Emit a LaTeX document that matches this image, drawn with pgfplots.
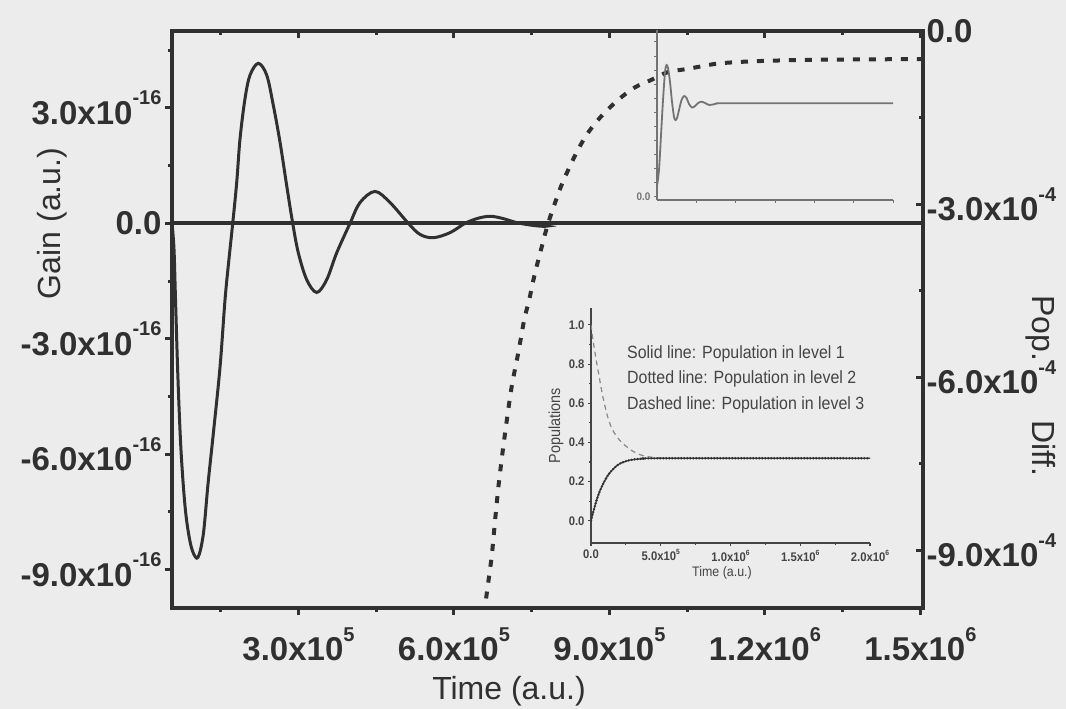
\documentclass[border=0pt]{standalone}
\usepackage{pgfplots}
\pgfplotsset{compat=1.18}
\usepackage{fontspec}
\setmainfont{Liberation Sans}
\newfontfamily\narrowfont{Liberation Sans}[FakeStretch=0.9]

\definecolor{paper}{RGB}{236,236,236}
\definecolor{ink}{RGB}{48,48,48}
\definecolor{inkb}{RGB}{68,68,68}
\definecolor{lightink}{RGB}{135,135,135}
\definecolor{grayink}{RGB}{115,115,115}

% raised exponents for the big and the small tick labels
\newcommand{\supx}[1]{\raisebox{19.5pt}{\fontsize{20}{20}\selectfont #1}}
\newcommand{\supi}[1]{\raisebox{6pt}{\fontsize{7.5}{8}\selectfont #1}}

\begin{document}
\begin{tikzpicture}[x=1pt,y=1pt]
\fill[paper] (0,0) rectangle (1066,709);

% ---------- main axis: gain (left scale) ----------
\begin{axis}[
  at={(172pt,101pt)}, anchor=south west,
  scale only axis, width=751pt, height=577pt,
  xmin=56000, xmax=1505000,
  ymin=-1e-15, ymax=5e-16,
  axis line style={ink, line width=4pt},
  tick style={ink, line width=3pt},
  tick align=outside,
  xtick pos=bottom, ytick pos=left,
  major tick length=7pt, minor tick length=4pt,
  xtick={3e5,6e5,9e5,1.2e6,1.5e6},
  minor xtick={1.5e5,4.5e5,7.5e5,1.05e6,1.35e6},
  xticklabels={3.0x10\supx{5},6.0x10\supx{5},9.0x10\supx{5},1.2x10\supx{6},1.5x10\supx{6}},
  ytick={-9e-16,-6e-16,-3e-16,0,3e-16},
  minor ytick={-7.5e-16,-4.5e-16,-1.5e-16,1.5e-16,4.5e-16},
  yticklabels={-9.0x10\supx{-16},-6.0x10\supx{-16},-3.0x10\supx{-16},0.0,3.0x10\supx{-16}},
  scaled x ticks=false, scaled y ticks=false,
  tick label style={font=\fontsize{33}{40}\selectfont\bfseries, text=ink},
  xticklabel style={yshift=-9pt},
]
\addplot[ink, line width=4pt] coordinates {(56000,0) (1505000,0)};
\addplot[ink, line width=3pt, smooth, tension=0.55] coordinates {
(56038,0) (59897,-6.80e-17) (62791,-1.988e-16) (67614,-4.080e-16)
(73402,-5.911e-16) (81120,-7.350e-16) (88838,-8.134e-16) (96555,-8.553e-16)
(106202,-8.683e-16) (116428,-8.082e-16) (125497,-6.774e-16) (135722,-5.466e-16)
(148649,-3.740e-16) (158296,-1.988e-16) (165435,-9.94e-17) (173153,0)
(180870,1.065e-16) (187237,2.197e-16) (196884,3.243e-16) (206531,3.853e-16)
(222545,4.159e-16) (238752,3.853e-16) (251486,3.068e-16) (264413,2.111e-16)
(277340,9.76e-17) (288917,0) (299721,-7.66e-17) (315928,-1.465e-16)
(335222,-1.797e-16) (354516,-1.465e-16) (373810,-7.66e-17) (399472,0)
(418766,5.41e-17) (447707,8.29e-17) (476648,5.41e-17) (511955,0)
(534529,-2.88e-17) (560190,-3.74e-17) (592414,-2.43e-17) (621355,0)
(646437,1.31e-17) (669589,1.83e-17) (692742,1.31e-17) (727471,0)
(775705,-7.8e-18) (823939,0) (1505000,0)
};
\end{axis}

% ---------- main axis: population difference (right scale) ----------
\begin{axis}[
  at={(172pt,101pt)}, anchor=south west,
  scale only axis, width=751pt, height=577pt,
  xmin=56000, xmax=1505000,
  ymin=-1e-3, ymax=0,
  axis x line*=top, axis y line*=right,
  axis line style={ink, line width=4pt},
  tick style={ink, line width=3pt},
  tick align=inside,
  major tick length=7pt, minor tick length=4pt,
  xtick={3e5,6e5,9e5,1.2e6,1.5e6},
  minor xtick={1.5e5,4.5e5,7.5e5,1.05e6,1.35e6},
  xticklabels={},
  ytick={-9e-4,-6e-4,-3e-4,0},
  minor ytick={-7.5e-4,-4.5e-4,-1.5e-4},
  yticklabels={-9.0x10\supx{-4},-6.0x10\supx{-4},-3.0x10\supx{-4},0.0},
  scaled x ticks=false, scaled y ticks=false,
  tick label style={font=\fontsize{33}{40}\selectfont\bfseries, text=ink},
]
\addplot[ink, line width=4pt, dash pattern=on 7pt off 9pt, smooth] coordinates {
(658000,-1.011e-3) (664378,-9.676e-4) (672867,-9.099e-4) (679234,-8.492e-4)
(685601,-7.913e-4) (693319,-7.335e-4) (701808,-6.758e-4) (711455,-6.161e-4)
(724189,-5.572e-4) (735766,-4.994e-4) (744834,-4.677e-4) (751201,-4.399e-4)
(758919,-4.105e-4) (767408,-3.810e-4) (775704,-3.520e-4) (785351,-3.231e-4)
(796928,-2.931e-4) (809083,-2.636e-4) (823939,-2.341e-4) (839953,-2.046e-4)
(859247,-1.757e-4) (885101,-1.469e-4) (917129,-1.191e-4) (949350,-9.76e-5)
(981571,-8.45e-5) (1013021,-7.11e-5) (1049679,-6.59e-5) (1080550,-6.07e-5)
(1113349,-5.60e-5) (1177020,-5.25e-5) (1267700,-5.03e-5) (1364171,-4.94e-5)
(1505000,-4.86e-5)
};
\end{axis}

% ---------- upper inset ----------
\begin{axis}[
  at={(657pt,509pt)}, anchor=south west,
  scale only axis, width=236pt, height=170pt,
  xmin=0, xmax=6, ymin=-0.032, ymax=1.777,
  axis lines*=left,
  axis line style={grayink, line width=1.5pt},
  tick style={grayink, line width=1pt},
  tick align=outside, major tick length=3pt, minor tick length=3pt,
  xtick={1,2,3,4,5,6}, xticklabels={},
  ytick={0}, yticklabels={0.0},
  minor ytick={0.15,0.3,0.45,0.6,0.75,0.9,1.05,1.2,1.35,1.5,1.65},
  tick label style={font=\narrowfont\fontsize{11}{12}\selectfont\bfseries, text=grayink},
]
\addplot[grayink, line width=1.8pt, smooth, tension=0.5] coordinates {
(0,0.117) (0.051,0.287) (0.102,0.660) (0.153,1.032) (0.204,1.330) (0.242,1.404)
(0.280,1.372) (0.331,1.223) (0.382,1.011) (0.433,0.851) (0.471,0.819) (0.509,0.840)
(0.560,0.926) (0.624,1.032) (0.687,1.074) (0.751,1.053) (0.815,0.989) (0.891,0.952)
(0.967,0.968) (1.044,1.000) (1.133,1.014) (1.222,1.000) (1.324,0.979) (1.426,0.984)
(1.553,0.997) (1.858,0.997) (6.0,0.997)
};
\end{axis}

% ---------- lower inset: level populations ----------
\begin{axis}[
  at={(591pt,165.7pt)}, anchor=south west,
  scale only axis, width=279pt, height=235pt,
  xmin=0, xmax=2e6, ymin=-0.115, ymax=1.085,
  axis lines*=left,
  axis line style={inkb, line width=1.6pt},
  tick style={inkb, line width=1.1pt},
  tick align=outside, major tick length=3pt, minor tick length=2pt,
  xtick={0,5e5,1e6,1.5e6,2e6},
  minor xtick={2.5e5,7.5e5,1.25e6,1.75e6},
  xticklabels={0.0,5.0x10\supi{5},1.0x10\supi{6},1.5x10\supi{6},2.0x10\supi{6}},
  ytick={0,0.2,0.4,0.6,0.8,1.0},
  minor ytick={0.1,0.3,0.5,0.7,0.9},
  yticklabels={0.0,0.2,0.4,0.6,0.8,1.0},
  scaled x ticks=false,
  tick label style={font=\narrowfont\fontsize{12.5}{14}\selectfont\bfseries, text=inkb},
]
% level 3
\addplot[lightink, line width=1.2pt, dash pattern=on 5pt off 4pt, smooth] coordinates {
(0,1.0) (15000,0.92) (35000,0.83) (55000,0.75) (75000,0.67) (95000,0.60)
(120000,0.53) (150000,0.47) (185000,0.43) (220000,0.40) (256000,0.378)
(300000,0.355) (350000,0.338) (400000,0.328) (500000,0.321) (600000,0.319) (2000000,0.319)
};
% level 1
\addplot[inkb, line width=1.3pt, smooth] coordinates {
(0,0) (5000,0.015) (20000,0.055) (40000,0.105) (65000,0.155) (90000,0.193)
(115000,0.225) (140000,0.25) (175000,0.275) (210000,0.293) (280000,0.31)
(375000,0.317) (500000,0.319) (2000000,0.319)
};
% level 2
\addplot[ink, line width=2.6pt, line cap=round, dash pattern=on 0pt off 3pt, smooth] coordinates {
(0,0) (5000,0.015) (20000,0.055) (40000,0.105) (65000,0.155) (90000,0.193)
(115000,0.225) (140000,0.25) (175000,0.275) (210000,0.293) (280000,0.31)
(375000,0.317) (500000,0.319) (2000000,0.319)
};
\end{axis}

% inset labels and notes
\node[rotate=90, anchor=base, font=\narrowfont\fontsize{16}{18}\selectfont, text=inkb] at (560,283.5) {Populations};
\node[anchor=base, font=\narrowfont\fontsize{13.8}{16}\selectfont, text=inkb] at (722,132) {Time (a.u.)};
\begin{scope}[every node/.style={anchor=base west, font=\narrowfont\fontsize{17.7}{20}\selectfont, text=inkb, inner sep=0pt}]
\node at (627,350.7) {Solid line: Population in level 1};
\node at (627,325) {Dotted line: Population in level 2};
\node at (627,299.7) {Dashed line: Population in level 3};
\end{scope}

% main axis titles
\node[anchor=base, font=\fontsize{32}{38}\selectfont, text=ink] at (509,9) {Time (a.u.)};
\node[rotate=90, anchor=base, font=\fontsize{32}{38}\selectfont, text=ink] at (60,485.5) {Gain (a.u.)};
\begin{scope}[every node/.style={rotate=-90, anchor=base west, inner sep=0pt, font=\fontsize{32}{38}\selectfont, text=ink}]
\node at (1032,414) {Pop.};
\node at (1032,289) {Diff.};
\end{scope}

\pgfresetboundingbox
\path (0,0) rectangle (1066,709);
\end{tikzpicture}
\end{document}
